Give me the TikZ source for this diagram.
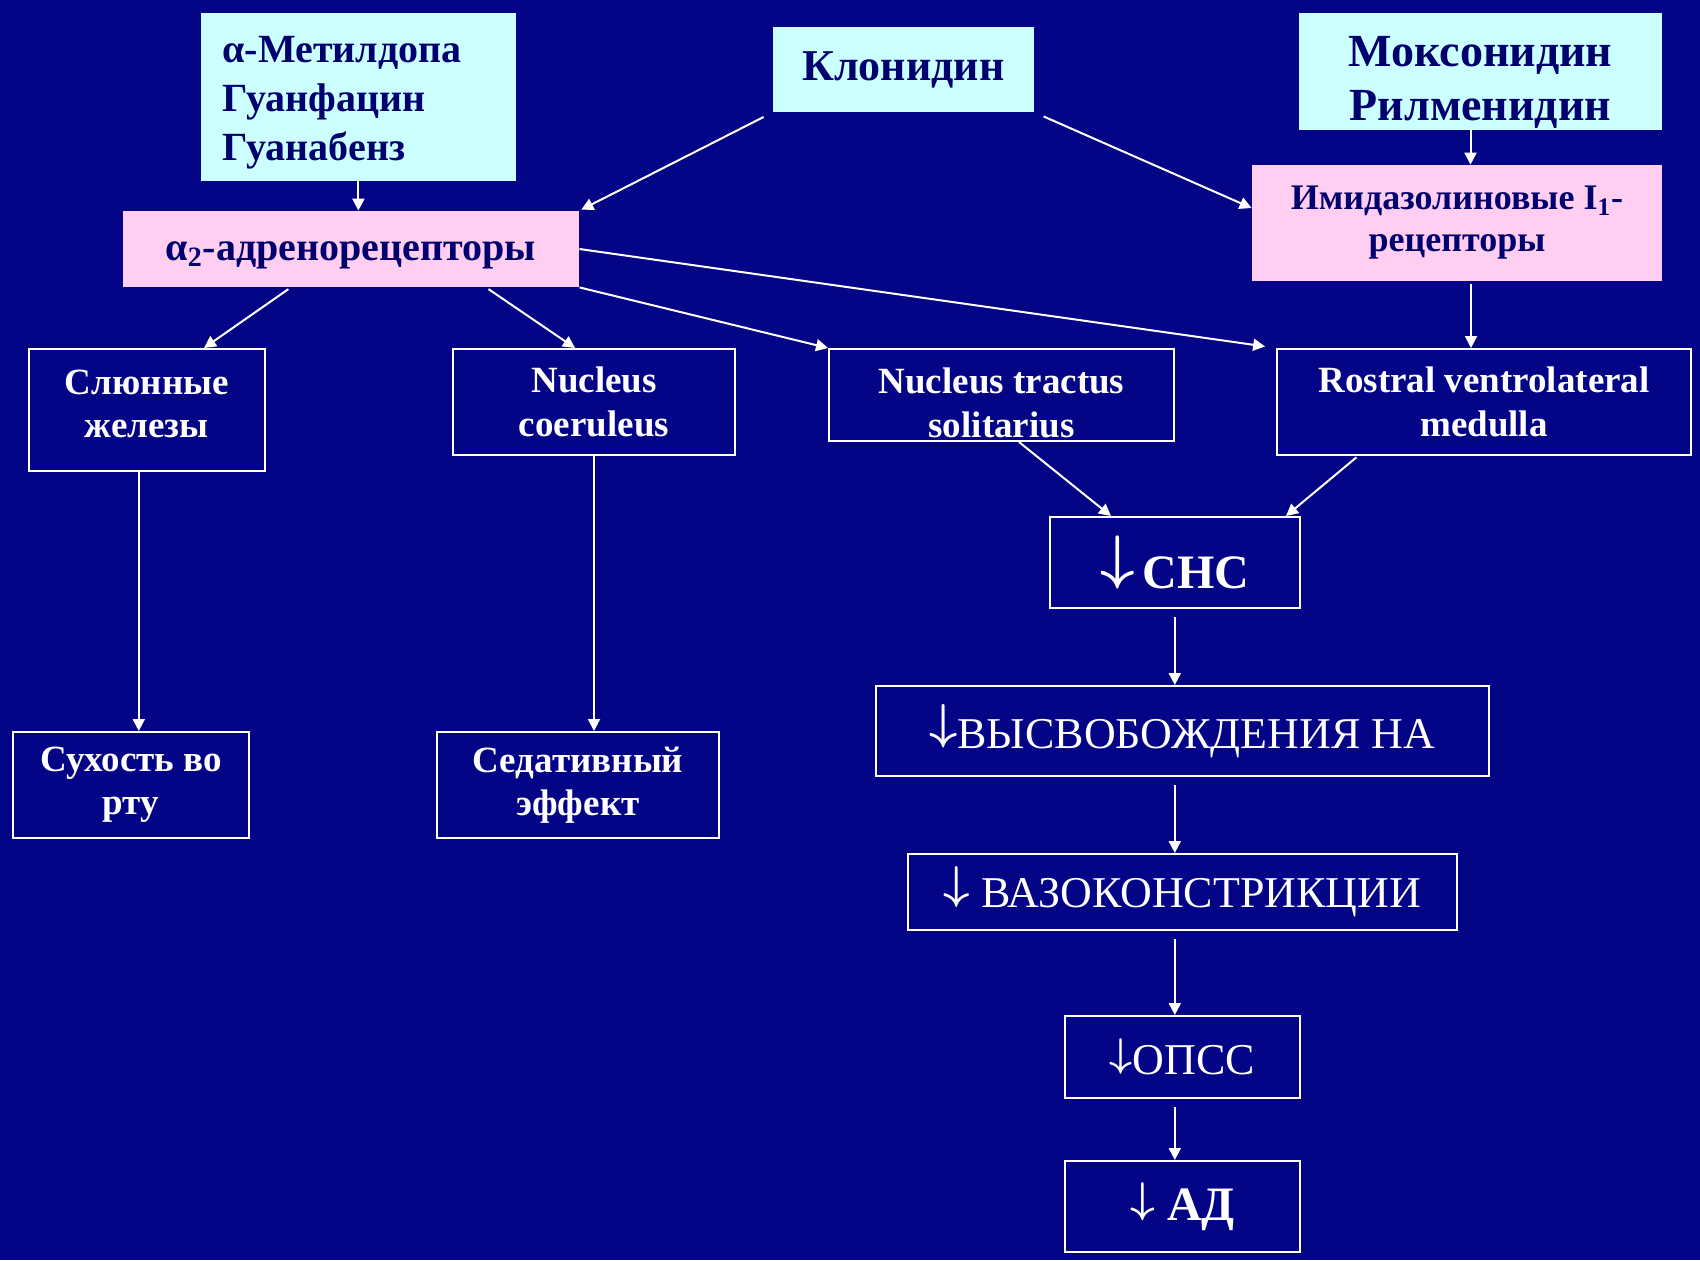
\documentclass[tikz,border=0pt]{standalone}
\usepackage{fontspec}
\setmainfont{Liberation Serif}
\usetikzlibrary{arrows.meta,positioning}

\definecolor{fondo}{RGB}{4,4,134}
\definecolor{celeste}{RGB}{204,255,255}
\definecolor{rosa}{RGB}{255,206,240}
\definecolor{tinta}{RGB}{0,0,110}

%tall down arrow of the chain, sitting on the baseline
\newcommand\abajo[1]{\raisebox{\depth}{\scalebox{#1}{\fontsize{10}{10}\selectfont\boldmath$\downarrow$}}}

\begin{document}
\begin{tikzpicture}[
    x=0.5pt,y=-0.5pt,
    caja/.style={
        draw=white,
        line width=1pt,
        text=white,
        align=center,
        inner sep=0pt,
        font=\bfseries\fontsize{18.5}{21.7}\selectfont,
    },
    clara/.style={
        fill=#1,
        text=tinta,
        align=center,
        inner sep=0pt,
    },
    flecha/.style={
        draw=white,
        line width=1pt,
        -{Triangle[length=6pt,width=6pt]},
    },
]

\def\NORM{\mdseries\fontsize{22}{24}\selectfont} %plain text of the chain
\def\GROS{\bfseries\fontsize{24}{26}\selectfont} %bold text of the chain

\fill[fondo] (0,0) rectangle (1700,1260);

%drugs
\node[clara=celeste,minimum width=157.8pt,minimum height=84pt,text width=136pt,align=left,
      font=\bfseries\fontsize{20}{24.5}\selectfont] (metil) at (358.4,97)
      {\rule{0pt}{18.6pt}α-Метилдопа\\Гуанфацин\\Гуанабенз};
\node[clara=celeste,minimum width=130.5pt,minimum height=42.5pt,
      font=\bfseries\fontsize{22}{24}\selectfont] (clon) at (903.5,69.5) {Клонидин};
\node[clara=celeste,minimum width=181.5pt,minimum height=58.5pt,
      font=\bfseries\fontsize{23}{27}\selectfont] (mox) at (1480.5,71.5)
      {\rule{0pt}{26pt}Моксонидин\\Рилменидин};

%receptors
\node[clara=rosa,minimum width=228.3pt,minimum height=38pt,
      font=\bfseries\fontsize{20}{24}\selectfont] (alfa) at (350.8,249)
      {\rule{0pt}{16pt}α\textsubscript{2}-адренорецепторы};
\node[clara=rosa,minimum width=205pt,minimum height=58pt,
      font=\bfseries\fontsize{18}{21}\selectfont] (imid) at (1457,223) {Имидазолиновые I\textsubscript{1}-\\рецепторы};

%targets
\node[caja,minimum width=117.8pt,minimum height=60.8pt] (sal) at (146.8,409.8) {Слюнные\\железы\rule[-6pt]{0pt}{6pt}};
\node[caja,minimum width=141pt,minimum height=53pt] (nc) at (594,402) {Nucleus\\coeruleus};
\node[caja,minimum width=172.5pt,minimum height=46pt] (nts) at (1001.5,395) {\rule{0pt}{20.6pt}Nucleus tractus\\solitarius};
\node[caja,minimum width=207pt,minimum height=53pt] (rvlm) at (1484,402) {Rostral ventrolateral\\medulla};

%side effects
\node[caja,minimum width=118pt,minimum height=53pt] (seca) at (131,785) {Сухость во\\рту};
\node[caja,minimum width=141pt,minimum height=53pt] (sed) at (578,785) {Седативный\\эффект};

%chain
\node[caja,minimum width=125.3pt,minimum height=45.5pt,font=\GROS] (sns) at (1174.8,562.5) {\abajo{3}\,СНС};
\node[caja,minimum width=306.3pt,minimum height=45pt,font=\NORM] (na) at (1182.3,731) {\abajo{2.45}ВЫСВОБОЖДЕНИЯ НА};
\node[caja,minimum width=274.8pt,minimum height=38pt,font=\NORM] (vaso) at (1182.3,892) {\abajo{2.3}\ ВАЗОКОНСТРИКЦИИ};
\node[caja,minimum width=117.5pt,minimum height=41pt,font=\NORM] (opss) at (1182.5,1057) {\abajo{2}ОПСС};
\node[caja,minimum width=117.5pt,minimum height=45.5pt,font=\GROS] (ad) at (1182.5,1206.5) {\abajo{2.15}\ АД};

\draw[flecha] (metil.south) -- (metil.south |- alfa.north);
\draw[flecha,shorten <=5pt,shorten >=1pt] (clon.south west) -- (alfa.north east);
\draw[flecha,shorten <=5pt] (clon.south east) -- ([yshift=7.5pt]imid.west);
\draw[flecha] ([xshift=-5pt]mox.south) -- ([xshift=-5pt]mox.south |- imid.north);
\draw[flecha,shorten <=1.5pt] ([xshift=7pt]imid.south) -- ([xshift=7pt]imid.south |- rvlm.north);

\draw[flecha,shorten <=1.5pt] ([xshift=-30pt]alfa.south) -- ([xshift=28.6pt]sal.north);
\draw[flecha,shorten <=1.5pt] ([xshift=67.6pt]alfa.south) -- ([xshift=-9.5pt]nc.north);
\draw[flecha] (alfa.south east) -- (nts.north west);
\draw[flecha,shorten >=5.5pt] (alfa.east) -- (rvlm.north west);

\draw[flecha] ([xshift=8.75pt]nts.south) -- ([xshift=-31.9pt]sns.north);
\draw[flecha,shorten <=1pt] ([xshift=-63pt]rvlm.south) -- ([xshift=55.6pt]sns.north);

\draw[flecha] ([xshift=-4pt]sal.south) -- ([xshift=-4pt]sal.south |- seca.north);
\draw[flecha] (nc.south) -- (nc.south |- sed.north);

\foreach \a/\b in {sns/na,na/vaso,vaso/opss,opss/ad}
    \draw[flecha,shorten <=4pt] (sns.south |- \a.south) -- (sns.south |- \b.north);

\end{tikzpicture}
\end{document}
